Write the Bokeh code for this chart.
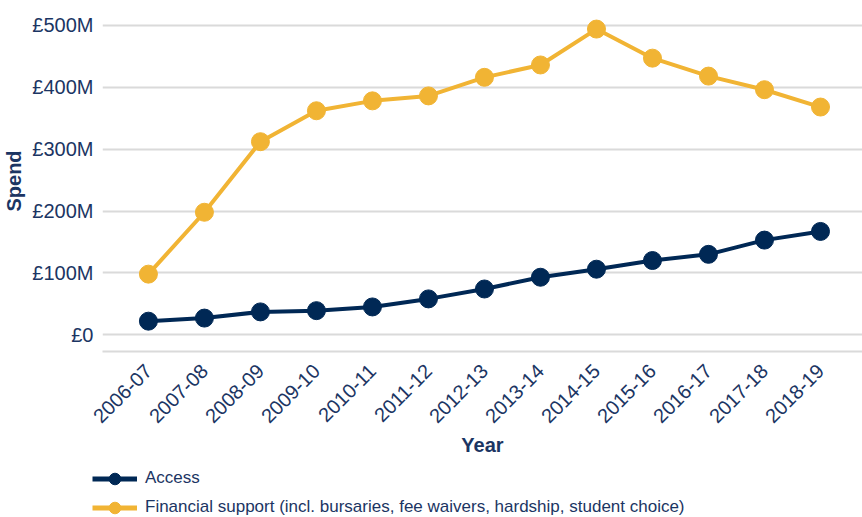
from bokeh.plotting import figure
from bokeh.layouts import column, row
from bokeh.models import Range1d, FixedTicker, Legend, LegendItem, ColumnDataSource
from bokeh.embed import file_html
from bokeh.resources import INLINE

years = ["2006-07", "2007-08", "2008-09", "2009-10", "2010-11", "2011-12", "2012-13",
         "2013-14", "2014-15", "2015-16", "2016-17", "2017-18", "2018-19"]
access = [22, 27, 37, 39, 45, 58, 74, 93, 106, 120, 130, 153, 167]
financial = [98, 198, 312, 362, 378, 386, 416, 436, 494, 447, 418, 396, 368]
y_ticks = [0, 100, 200, 300, 400, 500]
y_tick_labels = ["£0", "£100M", "£200M", "£300M", "£400M", "£500M"]
series_names = ["Access", "Financial support (incl. bursaries, fee waivers, hardship, student choice)"]

NAVY = "#002855"
GOLD = "#F1B434"
TEXT = "#1b3563"
GRID = "#dadada"
FONT = "Liberation Sans"

xs = list(range(len(years)))
src = ColumnDataSource(dict(x=xs, year=years, access=access, financial=financial))

p = figure(width=862, height=459, output_backend="svg", toolbar_location=None,
           x_range=Range1d(-0.82, 12.75), y_range=Range1d(-27, 524),
           min_border_left=98, min_border_right=0, min_border_top=10, min_border_bottom=0)
p.outline_line_color = None
p.background_fill_color = "white"
p.border_fill_color = "white"

p.line("x", "access", source=src, line_color=NAVY, line_width=4)
p.scatter("x", "access", source=src, size=18, fill_color=NAVY, line_color=NAVY)
p.line("x", "financial", source=src, line_color=GOLD, line_width=4)
p.scatter("x", "financial", source=src, size=18, fill_color=GOLD, line_color=GOLD)

p.xaxis.ticker = FixedTicker(ticks=xs)
p.xaxis.major_label_overrides = {i: y for i, y in zip(xs, years)}
p.xaxis.major_label_orientation = 0.785398
p.yaxis.ticker = FixedTicker(ticks=y_ticks)
p.yaxis.major_label_overrides = {t: l for t, l in zip(y_ticks, y_tick_labels)}

for ax in (p.xaxis[0], p.yaxis[0]):
    ax.axis_line_color = None
    ax.major_tick_line_color = None
    ax.minor_tick_line_color = None
    ax.major_label_text_font = FONT
    ax.major_label_text_color = TEXT
    ax.axis_label_text_font = FONT
    ax.axis_label_text_color = TEXT
    ax.axis_label_text_font_style = "bold"
    ax.axis_label_text_font_size = "20px"

p.xaxis.axis_line_color = GRID
p.xaxis.axis_line_width = 2
p.xaxis.major_label_text_font_size = "20px"
p.yaxis.major_label_text_font_size = "20px"
p.xaxis.axis_label = "Year"
p.yaxis.axis_label = "Spend"
p.xaxis.major_label_standoff = 10
p.xaxis.axis_label_standoff = 2
p.yaxis.major_label_standoff = 3
p.yaxis.axis_label_standoff = 4

p.xgrid.grid_line_color = None
p.ygrid.grid_line_color = GRID
p.ygrid.grid_line_width = 2

# legend strip below the chart (same series, drawn out of view so only the legend shows)
lg = figure(width=862, height=58, output_backend="svg", toolbar_location=None,
            x_range=Range1d(1000, 1001), y_range=Range1d(-16, 524),
            x_axis_location=None, y_axis_location=None,
            min_border_left=0, min_border_right=0, min_border_top=0, min_border_bottom=0)
lg.grid.visible = False
lg.outline_line_color = None
lg.border_fill_color = "white"
lg.background_fill_color = "white"
a_l = lg.line("x", "access", source=src, line_color=NAVY, line_width=5)
a_c = lg.scatter("x", "access", source=src, size=16, fill_color=NAVY, line_color=NAVY)
f_l = lg.line("x", "financial", source=src, line_color=GOLD, line_width=5)
f_c = lg.scatter("x", "financial", source=src, size=16, fill_color=GOLD, line_color=GOLD)

legend = Legend(items=[LegendItem(label=series_names[0], renderers=[a_l, a_c]),
                       LegendItem(label=series_names[1], renderers=[f_l, f_c])],
                location=(92, -4.5), orientation="vertical",
                label_text_font=FONT, label_text_font_size="17px", label_text_color=TEXT,
                glyph_width=45, glyph_height=29, label_height=20, label_standoff=8, spacing=0,
                padding=0, margin=0, border_line_color=None, background_fill_alpha=0)
lg.add_layout(legend, "center")

layout = column(p, row(lg), spacing=0)
open("out.html", "w").write(file_html(layout, INLINE))
